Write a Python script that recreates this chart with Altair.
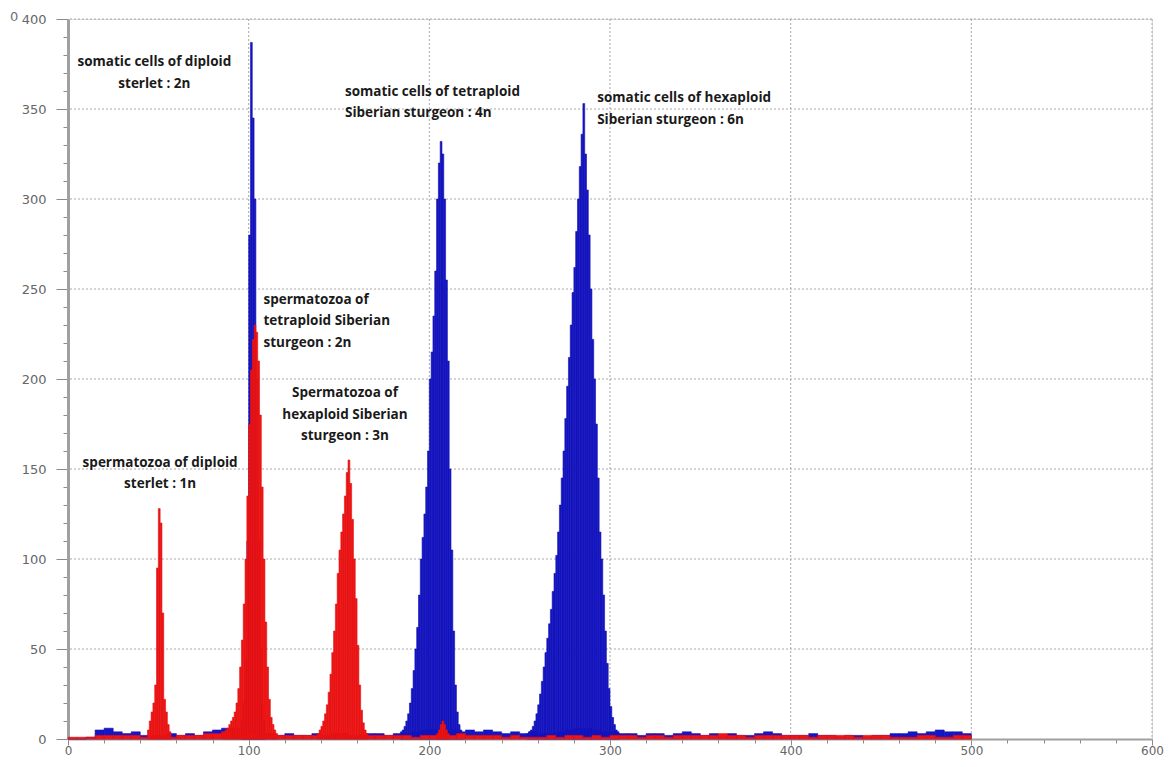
import altair as alt
import pandas as pd

# ---------------- data (counts per channel) ----------------
# background noise, 5-channel bins from channel 0 to 500
blue_noise = [0, 0, 1, 5, 6, 4, 3, 4, 2, 2,
              2, 3, 2, 3, 2, 4, 5, 6, 6, 4,
              4, 3, 3, 2, 3, 2, 2, 3, 2, 3,
              3, 2, 2, 3, 3, 2, 3, 3, 4, 5,
              5, 4, 5, 4, 5, 4, 5, 4, 3, 4,
              3, 4, 3, 3, 4, 5, 6, 6, 5, 4,
              4, 3, 3, 2, 3, 3, 2, 3, 4, 3,
              2, 3, 2, 3, 2, 2, 3, 4, 3, 2,
              2, 2, 3, 2, 2, 1, 2, 2, 1, 2,
              2, 3, 3, 4, 3, 4, 5, 4, 4, 3]
red_noise = [1, 1, 1, 2, 2, 2, 2, 2, 1, 2,
             2, 1, 2, 2, 2, 3, 3, 4, 4, 3,
             3, 2, 2, 2, 2, 2, 2, 2, 1, 2,
             3, 2, 2, 2, 2, 2, 2, 2, 1, 2,
             2, 2, 2, 3, 2, 2, 2, 2, 1, 2,
             1, 1, 1, 2, 1, 2, 2, 1, 2, 1,
             2, 2, 2, 1, 2, 2, 1, 2, 2, 2,
             2, 2, 3, 2, 2, 1, 2, 2, 2, 2,
             2, 2, 1, 2, 2, 2, 2, 1, 2, 2,
             2, 1, 1, 1, 2, 2, 1, 1, 2, 2]

# somatic cells (blue)
blue_2n_start = 96
blue_2n = [10, 20, 45, 110, 280, 387, 345, 300, 200, 110, 50, 20, 10]
blue_4n_start = 184
blue_4n = [4, 5, 7, 10, 14, 20, 28, 38, 50, 62, 80, 100, 112, 125, 140, 160,
           200, 215, 235, 260, 300, 320, 332, 325, 300, 255, 210, 150, 105,
           60, 30, 15, 8, 5, 3]
blue_6n_start = 254
blue_6n = [3, 4, 5, 7, 10, 14, 19, 25, 32, 40, 48, 56, 64, 72, 82, 92, 102,
           115, 130, 145, 160, 178, 196, 212, 230, 248, 262, 282, 300, 318,
           336, 353, 325, 305, 280, 250, 222, 200, 175, 145, 115, 100, 80, 60,
           42, 28, 18, 12, 8, 5, 3]

# spermatozoa (red)
red_1n_start = 44
red_1n = [5, 10, 15, 20, 30, 95, 128, 120, 70, 22, 15, 8, 4]
red_2n_start = 86
red_2n = [4, 5, 6, 8, 10, 12, 15, 20, 28, 40, 55, 75, 100, 135, 175, 205, 222,
          230, 226, 210, 180, 140, 100, 65, 40, 22, 12, 8, 5, 3]
red_3n_start = 138
red_3n = [3, 5, 7, 10, 14, 19, 26, 36, 48, 60, 75, 92, 105, 115, 125, 135, 148,
          155, 142, 122, 100, 78, 52, 30, 16, 9, 5, 3]
red_bump_start = 204
red_bump = [3, 5, 8, 10, 8, 5, 3]

# axis ticks / grid
x_grid = [100, 200, 300, 400, 500, 600]
y_grid = [50, 100, 150, 200, 250, 300, 350, 400]

# annotations
ann_text = [
    "somatic cells of diploid\nsterlet : 2n",
    "somatic cells of tetraploid\nSiberian sturgeon : 4n",
    "somatic cells of hexaploid\nSiberian sturgeon : 6n",
    "spermatozoa of\ntetraploid Siberian\nsturgeon : 2n",
    "Spermatozoa of\nhexaploid Siberian\nsturgeon :  3n",
    "spermatozoa of diploid\nsterlet : 1n",
]
ann_x = [47.8, 153.3, 292.9, 108.2, 153.3, 51.0]
ann_y = [380.0, 363.5, 360.0, 248.0, 196.0, 157.5]
ann_align = ["center", "left", "left", "left", "center", "center"]


def rows(series, start, vals, width=1):
    return [dict(series=series, x=start + i * width, x2=start + (i + 1) * width, count=v)
            for i, v in enumerate(vals)]


blue_rows = (rows("blue", 0, blue_noise, 5) + rows("blue", blue_2n_start, blue_2n)
             + rows("blue", blue_4n_start, blue_4n) + rows("blue", blue_6n_start, blue_6n))
red_rows = (rows("red", 0, red_noise, 5) + rows("red", red_1n_start, red_1n)
            + rows("red", red_2n_start, red_2n) + rows("red", red_3n_start, red_3n)
            + rows("red", red_bump_start, red_bump))
blue_df = pd.DataFrame(blue_rows)
red_df = pd.DataFrame(red_rows)

ann_df = pd.DataFrame({"x": ann_x, "count": ann_y, "label": ann_text, "align": ann_align})

# ---------------- encodings ----------------
xaxis = alt.Axis(
    values=list(range(0, 601, 20)),
    labelExpr="datum.value % 100 === 0 ? datum.label : ''",
    tickSize={"condition": {"test": "datum.value % 100 === 0", "value": 6}, "value": 4},
    grid=False, domainColor="#a0a0a0", domainWidth=2, tickColor="#8a8a8a",
    labelColor="#666666", labelFont="DejaVu Sans", labelFontSize=12,
    labelPadding=0, labelFlush=False, title=None,
)
yaxis = alt.Axis(
    values=list(range(0, 401, 10)),
    labelExpr="datum.value % 50 === 0 ? datum.label : ''",
    tickSize={"condition": {"test": "datum.value % 50 === 0", "value": 12}, "value": 5},
    grid=False, domainColor="#a0a0a0", domainWidth=3, tickColor="#8a8a8a",
    labelColor="#666666", labelFont="DejaVu Sans", labelFontSize=13,
    labelPadding=10, title=None,
)
xscale = alt.Scale(domain=[0, 600], nice=False, zero=False)
yscale = alt.Scale(domain=[0, 400], nice=False)

vgrid = alt.Chart(pd.DataFrame({"x": x_grid})).mark_rule(
    color="#a8a8a8", strokeDash=[2, 2], strokeWidth=1
).encode(x=alt.X("x:Q", scale=xscale, axis=xaxis))

hgrid = alt.Chart(pd.DataFrame({"count": y_grid})).mark_rule(
    color="#a8a8a8", strokeDash=[2, 2], strokeWidth=1
).encode(y=alt.Y("count:Q", scale=yscale, axis=yaxis))

blue = alt.Chart(blue_df).mark_rect(
    color="#1515c8", stroke="#1010b0", strokeWidth=0.6
).encode(
    x=alt.X("x:Q", scale=xscale, axis=xaxis),
    x2="x2:Q",
    y=alt.Y("count:Q", scale=yscale, axis=yaxis),
    y2=alt.datum(0),
)
red = alt.Chart(red_df).mark_rect(
    color="#f01414", stroke="#e01010", strokeWidth=0.6
).encode(
    x=alt.X("x:Q", scale=xscale, axis=xaxis),
    x2="x2:Q",
    y=alt.Y("count:Q", scale=yscale, axis=yaxis),
    y2=alt.datum(0),
)

def ann_layer(align):
    return alt.Chart(ann_df[ann_df["align"] == align]).mark_text(
        align=align, baseline="top", lineBreak="\n", lineHeight=21.5,
        font="Open Sans", fontWeight="bold", fontSize=13.5, color="#1a1a1a",
    ).encode(
        x=alt.X("x:Q", scale=xscale, axis=xaxis),
        y=alt.Y("count:Q", scale=yscale, axis=yaxis),
        text="label:N",
    )

stray = alt.Chart(pd.DataFrame({"t": ["0"]})).mark_text(
    align="left", baseline="middle", font="DejaVu Sans", fontSize=13, color="#707070"
).encode(x=alt.value(-58), y=alt.value(-2), text="t:N")

chart = alt.layer(
    vgrid, hgrid, blue, red, ann_layer("center"), ann_layer("left"), stray
).properties(
    width=1084, height=720,
    padding={"left": 60, "top": 11, "right": 14, "bottom": 20},
    autosize=alt.AutoSizeParams(type="none"),
).configure_view(stroke=None).configure(background="white")

chart.save("out.html", embed_options={"renderer": "svg", "actions": False})
